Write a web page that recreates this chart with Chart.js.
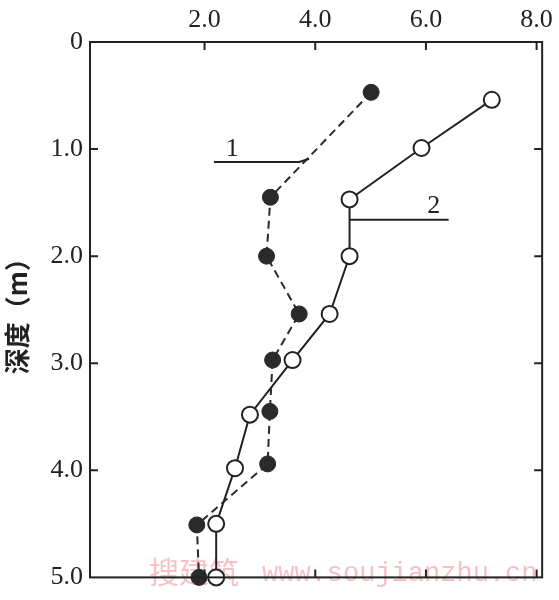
<!DOCTYPE html>
<html>
<head>
<meta charset="utf-8">
<script src="https://cdn.jsdelivr.net/npm/chart.js@4.4.1/dist/chart.umd.min.js"></script>
<style>
html,body{margin:0;padding:0;background:#fff;}
canvas{display:block;}
</style>
</head>
<body>
<canvas id="c" width="559" height="600"></canvas>
<script>
// ---- data ----
const depth1 = [0.47, 1.45, 2.0, 2.54, 2.97, 3.45, 3.94, 4.51, 5.0];
const value1 = [5.01, 3.19, 3.12, 3.71, 3.23, 3.18, 3.14, 1.86, 1.90];
const depth2 = [0.54, 0.99, 1.47, 2.0, 2.54, 2.97, 3.48, 3.98, 4.5, 5.0];
const value2 = [7.19, 5.92, 4.62, 4.62, 4.26, 3.59, 2.82, 2.55, 2.21, 2.21];
const xTickValues = [2, 4, 6, 8];
const yTickValues = [0, 1, 2, 3, 4, 5];
const yTitle = '深度（m）';
const seriesLabels = ['1', '2'];
// leader annotations in data coordinates: [label, textX, textY, path]
const leader1 = {text: '1', tx: 2.5, ty: 1.06, path: [[2.17, 1.12], [3.71, 1.12], [3.89, 1.09]]};
const leader2 = {text: '2', tx: 6.14, ty: 1.6, path: [[4.62, 1.66], [6.41, 1.66]]};
const watermarkCn = '搜建筑';
const watermarkUrl = 'www.soujianzhu.cn';

const toPts = (xs, ys) => xs.map((v, i) => ({x: v, y: ys[i]}));
const INK = '#222';

const framePlugin = {
  id: 'frame',
  beforeDraw(chart) {
    const ctx = chart.ctx;
    ctx.save();
    ctx.fillStyle = '#fff';
    ctx.fillRect(0, 0, chart.width, chart.height);
    ctx.restore();
  },
  beforeDatasetsDraw(chart) {
    const ctx = chart.ctx;
    const a = chart.chartArea;
    ctx.save();
    ctx.fillStyle = 'rgba(238,140,152,0.55)';
    ctx.textBaseline = 'alphabetic';
    ctx.font = '30px "Noto Sans CJK SC"';
    ctx.fillText(watermarkCn, 149, 583);
    ctx.font = '27px "Liberation Mono"';
    ctx.fillText(watermarkUrl, 262, 581);
    ctx.restore();
  },
  afterDatasetsDraw(chart) {
    const ctx = chart.ctx;
    const a = chart.chartArea;
    const xs = chart.scales.x, ys = chart.scales.y;
    ctx.save();
    // frame
    ctx.strokeStyle = INK;
    ctx.lineWidth = 2;
    ctx.strokeRect(a.left, a.top, a.right - a.left, a.bottom - a.top);
    // inward ticks
    const tl = 8;
    ctx.beginPath();
    xTickValues.forEach(v => {
      const px = xs.getPixelForValue(v);
      ctx.moveTo(px, a.top); ctx.lineTo(px, a.top + tl);
      ctx.moveTo(px, a.bottom); ctx.lineTo(px, a.bottom - tl);
    });
    yTickValues.forEach(v => {
      if (v === 0 || v === 5) return;
      const py = ys.getPixelForValue(v);
      ctx.moveTo(a.left, py); ctx.lineTo(a.left + tl, py);
      ctx.moveTo(a.right, py); ctx.lineTo(a.right - tl, py);
    });
    ctx.stroke();
    // leaders
    ctx.lineWidth = 2;
    [leader1, leader2].forEach(L => {
      ctx.beginPath();
      L.path.forEach((p, i) => {
        const px = xs.getPixelForValue(p[0]), py = ys.getPixelForValue(p[1]);
        if (i === 0) ctx.moveTo(px, py); else ctx.lineTo(px, py);
      });
      ctx.stroke();
      ctx.fillStyle = INK;
      ctx.font = '26px "Liberation Serif"';
      ctx.textAlign = 'center';
      ctx.textBaseline = 'alphabetic';
      ctx.fillText(L.text, xs.getPixelForValue(L.tx), ys.getPixelForValue(L.ty));
    });
    ctx.restore();
  }
};

new Chart(document.getElementById('c'), {
  type: 'scatter',
  data: {
    datasets: [
      {
        label: seriesLabels[0],
        data: toPts(value1, depth1),
        showLine: true,
        borderColor: '#2a2a2a',
        borderWidth: 2,
        borderDash: [8, 5],
        pointRadius: 8,
        pointBackgroundColor: '#2a2a2a',
        pointBorderColor: '#2a2a2a',
        pointBorderWidth: 1,
        clip: false
      },
      {
        label: seriesLabels[1],
        data: toPts(value2, depth2),
        showLine: true,
        borderColor: INK,
        borderWidth: 2,
        pointRadius: 8,
        pointBackgroundColor: '#fff',
        pointBorderColor: INK,
        pointBorderWidth: 2,
        clip: false
      }
    ]
  },
  options: {
    responsive: false,
    animation: false,
    events: [],
    layout: {padding: {left: 0, right: 11, top: 0, bottom: 15}},
    plugins: {legend: {display: false}, tooltip: {enabled: false}},
    scales: {
      x: {
        type: 'linear',
        position: 'top',
        min: -0.07,
        max: 8.1,
        afterBuildTicks: s => { s.ticks = xTickValues.map(v => ({value: v})); },
        afterFit: s => { s.height = 42; },
        grid: {display: false, drawTicks: false},
        border: {display: false},
        ticks: {
          color: INK,
          padding: 6,
          font: {family: 'Liberation Serif', size: 26},
          callback: v => Number(v).toFixed(1)
        }
      },
      y: {
        type: 'linear',
        position: 'left',
        reverse: true,
        min: 0,
        max: 5,
        afterBuildTicks: s => { s.ticks = yTickValues.map(v => ({value: v})); },
        afterFit: s => { s.width = 90; },
        grid: {display: false, drawTicks: false},
        border: {display: false},
        title: {
          display: true,
          text: yTitle,
          color: INK,
          padding: {top: 2, bottom: 0},
          font: {family: 'Noto Sans CJK SC', size: 26, weight: 'bold'}
        },
        ticks: {
          color: INK,
          padding: 7,
          font: {family: 'Liberation Serif', size: 26},
          callback: v => (v === 0 ? '0' : Number(v).toFixed(1))
        }
      }
    }
  },
  plugins: [framePlugin]
});
</script>
</body>
</html>
